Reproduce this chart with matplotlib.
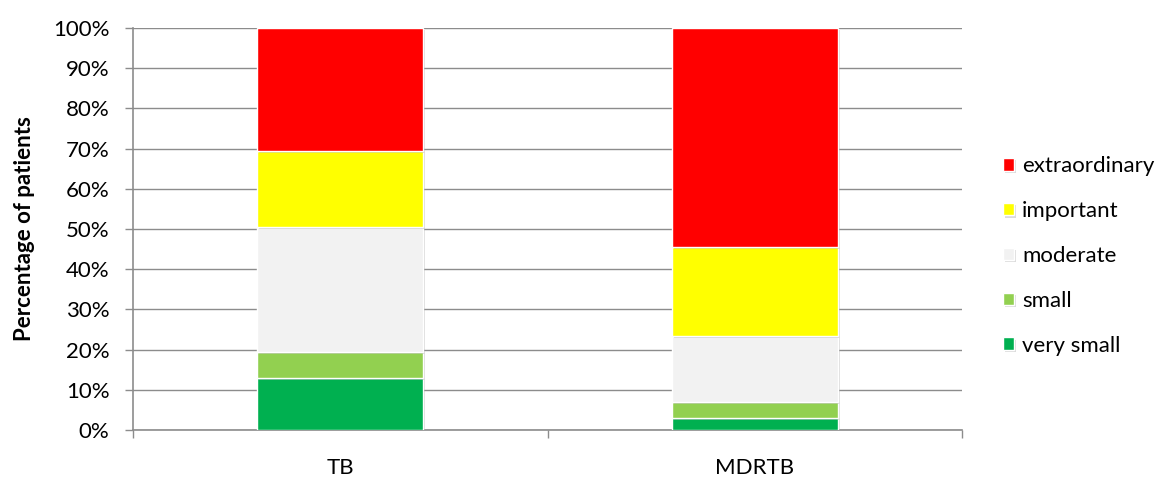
import matplotlib
matplotlib.use("Agg")
import matplotlib.pyplot as plt
import matplotlib.patheffects as pe
import numpy as np
from matplotlib.ticker import PercentFormatter, FixedLocator

plt.rcParams['font.family'] = ['Lato', 'DejaVu Sans']

categories = ["TB", "MDRTB"]
levels = ["very small", "small", "moderate", "important", "extraordinary"]
very_small = [12.9, 2.9]
small = [6.5, 4.0]
moderate = [31.2, 16.6]
important = [18.8, 22.1]
extraordinary = [30.6, 54.4]
colors = ["#00b050", "#92d050", "#f2f2f2", "#ffff00", "#ff0000"]

series = [very_small, small, moderate, important, extraordinary]

fig = plt.figure(figsize=(11.63, 4.79), dpi=100)
ax = fig.add_axes([0.1144, 0.1023, 0.7128, 0.8392])

x = np.arange(len(categories))
bottom = np.zeros(len(categories))
shadow = [pe.SimplePatchShadow(offset=(1.5, -1.5), shadow_rgbFace="#9a9a9a", alpha=0.35), pe.Normal()]
handles = []
for vals, col, name in zip(series, colors, levels):
    bars = ax.bar(x, vals, width=0.4, bottom=bottom, color=col, edgecolor="white",
                  linewidth=1.0, label=name, zorder=3)
    for b in bars:
        b.set_path_effects(shadow)
    handles.append(bars)
    bottom += np.array(vals)

ax.set_xlim(-0.5, 1.5)
ax.set_ylim(0, 100)
ax.yaxis.set_major_locator(FixedLocator(np.arange(0, 101, 10)))
ax.yaxis.set_major_formatter(PercentFormatter(decimals=0))
ax.grid(axis="y", color="#8c8c8c", linewidth=1.0, zorder=0)
ax.set_axisbelow(True)

ax.set_xticks(x)
ax.set_xticklabels(categories)
ax.set_xticks([-0.5, 0.5, 1.5], minor=True)
ax.tick_params(axis="x", which="major", length=0, pad=20, labelsize=16, colors="black")
ax.tick_params(axis="x", which="minor", length=6, color="#8c8c8c", width=1.0)
ax.tick_params(axis="y", which="major", length=6, color="#8c8c8c", width=1.0, labelsize=16, pad=11)

for s in ["top", "right"]:
    ax.spines[s].set_visible(False)
for s in ["left", "bottom"]:
    ax.spines[s].set_color("#8c8c8c")
    ax.spines[s].set_linewidth(1.2)

ax.set_ylabel("Percentage of patients", fontsize=16, fontweight="bold", labelpad=13)

leg = ax.legend(handles[::-1], levels[::-1], loc="center left", bbox_to_anchor=(1.0495, 0.433),
                frameon=False, fontsize=16, handlelength=0.5, handleheight=0.5,
                handletextpad=0.35, labelspacing=1.12, borderaxespad=0, borderpad=0)

fig.savefig("out.png", dpi=100)
